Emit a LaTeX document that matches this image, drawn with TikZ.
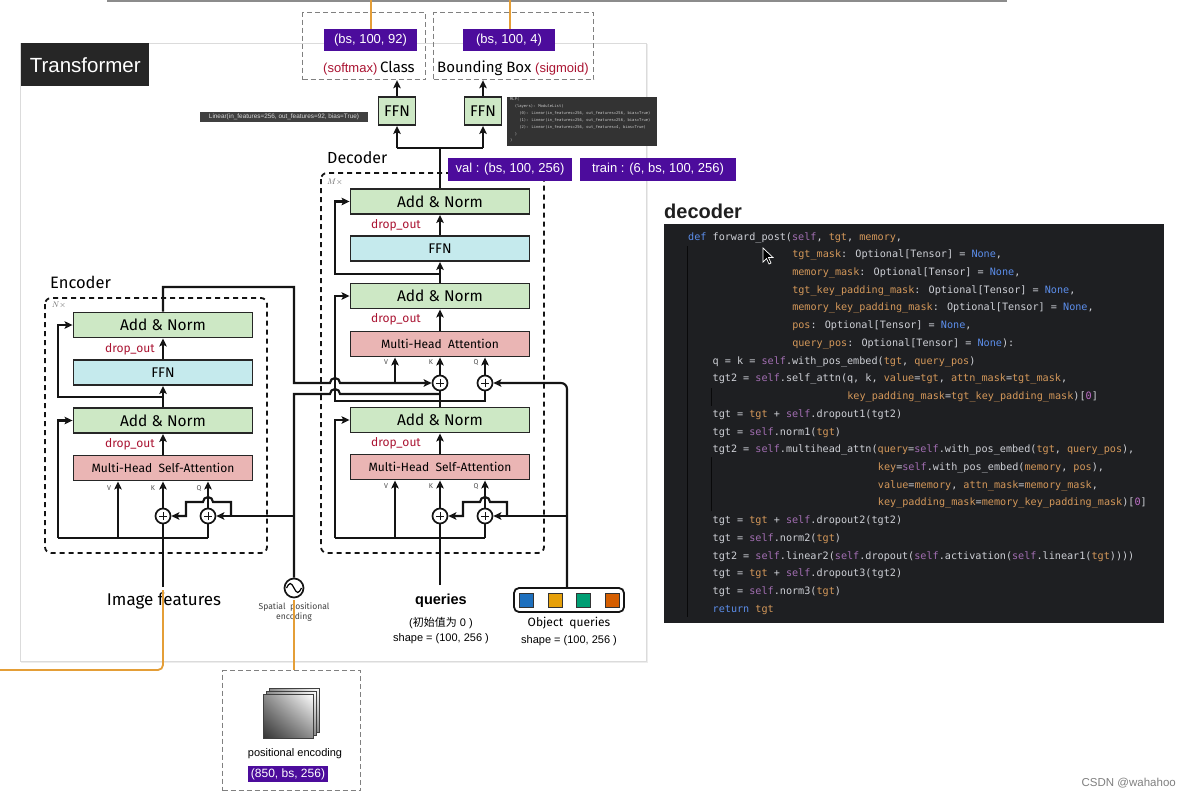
\documentclass[tikz,border=0pt]{standalone}
\usepackage{fontspec}
\setmainfont{Fira Sans}
\newfontfamily\arialf{Liberation Sans}
\newfontfamily\monof{DejaVu Sans Mono}
\newfontfamily\cjkf{Noto Sans CJK SC}
\usetikzlibrary{arrows.meta,calc,shadings}
\definecolor{purp}{RGB}{76,12,156}
\definecolor{dropred}{RGB}{170,20,50}
\definecolor{angreen}{RGB}{205,232,197}
\definecolor{ffnblue}{RGB}{197,234,237}
\definecolor{attpink}{RGB}{234,181,180}
\definecolor{orangeln}{RGB}{228,158,55}
\definecolor{codebg}{RGB}{30,31,34}
\definecolor{codetxt}{RGB}{206,208,214}
\definecolor{codeblue}{RGB}{92,142,235}
\definecolor{codeself}{RGB}{162,110,178}
\definecolor{codeor}{RGB}{212,152,90}
\definecolor{codenum}{RGB}{192,112,202}
\definecolor{sqblue}{RGB}{30,112,190}
\definecolor{sqorange}{RGB}{230,160,10}
\definecolor{sqgreen}{RGB}{0,158,115}
\definecolor{sqred}{RGB}{213,94,0}
\newcommand{\CodeKw}[1]{\textcolor{codeblue}{#1}}
\newcommand{\CodeSelf}{\textcolor{codeself}{self}}
\newcommand{\CodeP}[1]{\textcolor{codeor}{#1}}
\newcommand{\CodeNone}{\textcolor{codeblue}{None}}
\newcommand{\CodeZero}{\textcolor{codenum}{0}}
\newcommand{\CodeLine}[3]{\node[codeline] at ({688+#1*6.12},{240+#2*17.73}) {#3};}
\begin{document}
\begin{tikzpicture}[x=1pt,y=-1pt,
  ln/.style={line width=2.1pt, draw=black!92},
  ar/.style={ln, -{Stealth[length=8pt,width=7.5pt,inset=1.8pt]}},
  blk/.style={draw=black!85, line width=1.9pt, minimum width=179pt, minimum height=25pt, inner sep=0pt},
  anbox/.style={blk, fill=angreen, font=\fontsize{15.5}{15.5}\selectfont},
  ffbox/.style={blk, fill=ffnblue, font=\fontsize{14}{14}\selectfont},
  attbox/.style={blk, fill=attpink, font=\fontsize{12}{12}\selectfont},
  plusnode/.style={circle, draw=black!92, line width=1.7pt, fill=white, minimum size=15pt, inner sep=0pt,
     path picture={\draw[line width=1pt] ([xshift=-4pt]path picture bounding box.center) -- ([xshift=4pt]path picture bounding box.center);
                   \draw[line width=1pt] ([yshift=-4pt]path picture bounding box.center) -- ([yshift=4pt]path picture bounding box.center);}},
  droplab/.style={anchor=base east, text=dropred, font=\fontsize{12}{12}\selectfont, inner sep=0pt},
  vkq/.style={font=\fontsize{7}{7}\selectfont, text=black!70, inner sep=0pt},
  purpbox/.style={fill=purp, text=white, font=\arialf\fontsize{13}{13}\selectfont, inner sep=0pt},
  dbox/.style={draw=black!50, dashed, line width=1.2pt, dash pattern=on 5pt off 3pt, inner sep=0pt},
  encbox/.style={draw=black!92, line width=1.8pt, dash pattern=on 5pt off 4pt, rounded corners=6pt},
  oline/.style={draw=orangeln, line width=1.8pt},
  codeline/.style={anchor=base west, inner sep=0pt, font=\monof\fontsize{10.15}{10.15}\selectfont, text=codetxt},
  sq/.style={draw=black!80, line width=0.8pt, minimum size=14pt, inner sep=0pt}
]
\useasboundingbox (0,0) rectangle (1190,798);
\fill[white] (0,0) rectangle (1190,798);

% top rule
\draw[line width=1.4pt, black!45] (107,1) -- (1007,1);

% Transformer panel
\draw[black!14, line width=1pt, fill=white] (20,43) rectangle (646,661);
\draw[black!7, line width=1.5pt] (21,662.5) -- (647.5,662.5) -- (647.5,44);
\node[fill=black!85, text=white, font=\arialf\fontsize{20.5}{20.5}\selectfont, minimum width=128pt, minimum height=43pt, inner sep=0, anchor=north west] (tlabel) at (21,43) {Transformer};

% top output boxes
\node[dbox, minimum width=123pt, minimum height=67pt, anchor=north west] (clsbox) at (302,12) {};
\node[dbox, minimum width=160pt, minimum height=67pt, anchor=north west] (bbbox) at (433,12) {};
\coordinate (o1) at (371,0);
\coordinate (o2) at (510,0);
\draw[oline] (o1) -- (371,29);
\draw[oline] (o2) -- (510,29);
\node[purpbox, minimum width=93pt, minimum height=22pt] (p92) at (370.5,40) {(bs, 100, 92)};
\node[purpbox, minimum width=92pt, minimum height=22pt] (p4) at (509,40) {(bs, 100, 4)};
\node[anchor=base west, inner sep=0, font=\arialf\fontsize{13}{13}\selectfont, text=dropred] (smx) at (323,72) {(softmax)};
\node[anchor=base west, inner sep=0, font=\fontsize{15}{15}\selectfont] (clsT) at (380,72.5) {Class};
\node[anchor=base west, inner sep=0, font=\fontsize{15}{15}\selectfont] (bbT) at (437,72.5) {Bounding Box};
\node[anchor=base west, inner sep=0, font=\arialf\fontsize{13}{13}\selectfont, text=dropred] (sgm) at (535,72) {(sigmoid)};

% FFN heads
\node[anbox, minimum width=37pt, minimum height=28pt] (ffn1) at (397,111) {FFN};
\node[anbox, minimum width=37pt, minimum height=28pt] (ffn2) at (483,111) {FFN};
\draw[ar] (ffn1.north) -- (ffn1.north |- clsbox.south);
\draw[ar] (ffn2.north) -- (ffn2.north |- bbbox.south);
\node[fill=black!75, text=white!85!black, font=\arialf\fontsize{6.4}{6.4}\selectfont, inner sep=0pt, minimum height=10pt, minimum width=168pt] (linlab) at (284,116.5) {Linear(in\_features=256, out\_features=92, bias=True)};
\node[fill=black!80, minimum width=150pt, minimum height=49pt, anchor=north west, inner sep=0] (mlp) at (507,97) {};
\node[anchor=north west, inner sep=0, font=\monof\fontsize{3.8}{6.9}\selectfont, text=white!80!black, align=left] (mlptxt) at (510,97.5)
 {MLP(\\\phantom{xx}(layers): ModuleList(\\\phantom{xxxx}(0): Linear(in\_features=256, out\_features=256, bias=True)\\\phantom{xxxx}(1): Linear(in\_features=256, out\_features=256, bias=True)\\\phantom{xxxx}(2): Linear(in\_features=256, out\_features=4, bias=True)\\\phantom{xx})\\)};

% Encoder
\draw[encbox] (45,298) rectangle (267,553);
\node[anchor=west, inner sep=0, font=\fontsize{16.5}{16.5}\selectfont] (enclab) at (50,282) {Encoder};
\node[font=\fontsize{8}{8}\selectfont, text=black!60, inner sep=0] (nx) at (59,305) {$N\times$};
\node[anbox] (eAN2) at (163,325) {Add \& Norm};
\node[ffbox] (eFFN) at (163,372.5) {FFN};
\node[anbox] (eAN1) at (163,420.5) {Add \& Norm};
\node[attbox] (eMHSA) at (163,468) {Multi-Head\ \ Self-Attention};
\node[plusnode] (ePK) at (163,516) {};
\node[plusnode] (ePQ) at (208,516) {};
\node[droplab] (ed2) at (155,352) {drop\_out};
\node[droplab] (ed1) at (155,447) {drop\_out};
\node[vkq] (eV) at (109,488) {V};
\node[vkq] (eK) at (153,488) {K};
\node[vkq] (eQ) at (199,488) {Q};

% Decoder
\draw[encbox] (321,173) rectangle (544,553);
\node[anchor=west, inner sep=0, font=\fontsize{16}{16}\selectfont] (declab) at (327,158) {Decoder};
\node[font=\fontsize{8}{8}\selectfont, text=black!60, inner sep=0] (mx) at (335,182) {$M\times$};
\node[anbox] (dAN3) at (440,201.5) {Add \& Norm};
\node[ffbox] (dFFN) at (440,248.5) {FFN};
\node[anbox] (dAN2) at (440,296) {Add \& Norm};
\node[attbox] (dMHA) at (440,344) {Multi-Head\ \ Attention};
\node[anbox] (dAN1) at (440,420) {Add \& Norm};
\node[attbox] (dMHSA) at (440,467) {Multi-Head\ \ Self-Attention};
\node[plusnode] (dPK) at (440,383) {};
\node[plusnode] (dPQ) at (485,383) {};
\node[plusnode] (dLK) at (440,516) {};
\node[plusnode] (dLQ) at (485,516) {};
\node[droplab] (dd3) at (421,228.5) {drop\_out};
\node[droplab] (dd2) at (421,322.5) {drop\_out};
\node[droplab] (dd1) at (421,446.5) {drop\_out};
\node[vkq] (dV2) at (386,362) {V};
\node[vkq] (dK2) at (431,362) {K};
\node[vkq] (dQ2) at (476,362) {Q};
\node[vkq] (dV1) at (386,486) {V};
\node[vkq] (dK1) at (431,486) {K};
\node[vkq] (dQ1) at (476,486) {Q};
\node[purpbox, minimum width=124pt, minimum height=23pt] (valb) at (510,169) {val : (bs, 100, 256)};
\node[purpbox, minimum width=156pt, minimum height=23pt] (trainb) at (658,169) {train : (6, bs, 100, 256)};

% bottom inputs
\node[font=\fontsize{17}{17}\selectfont, inner sep=0] (imgf) at (164,601) {Image features};
\node[circle, draw=black!92, line width=1.7pt, minimum size=19pt, inner sep=0, fill=white] (spe) at (294,588) {};
\draw[line width=1.2pt] (286.5,588) sin (290.25,583.5) cos (294,588) sin (297.75,592.5) cos (301.5,588);
\node[font=\fontsize{8.6}{10}\selectfont, text=black!75, align=center, inner sep=0] (spetxt) at (294,612) {Spatial\ \ positional\\encoding};
\node[font=\arialf\bfseries\fontsize{14.5}{14.5}\selectfont, inner sep=0] (qt) at (441,601) {queries};
\node[font=\arialf\fontsize{11}{11}\selectfont, inner sep=0] (qinit) at (441,623) {({\cjkf 初始值为} 0 )};
\node[font=\arialf\fontsize{11}{11}\selectfont, inner sep=0] (qshape) at (441,639) {shape = (100, 256 )};
\node[draw=black!92, line width=1.8pt, rounded corners=5pt, minimum width=110pt, minimum height=24pt, inner sep=0] (oq) at (569,600) {};
\node[sq, fill=sqblue] (s1) at (526,600.5) {};
\node[sq, fill=sqorange] (s2) at (555,600.5) {};
\node[sq, fill=sqgreen] (s3) at (583,600.5) {};
\node[sq, fill=sqred] (s4) at (612,600.5) {};
\node[font=\fontsize{12}{12}\selectfont, inner sep=0] (oqt) at (569,623) {Object\ \ queries};
\node[font=\arialf\fontsize{11}{11}\selectfont, inner sep=0] (oqs) at (569,641) {shape = (100, 256 )};

% ---- encoder connectors
\coordinate (eIn) at (163,587);
\coordinate (eBusL) at (58,538);
\coordinate (eBusV) at (118,538);
\coordinate (eBusR) at (208,538);
\draw[ln] (eIn) -- (ePK.south);
\draw[ar] (ePK.north) -- (ePK.north |- eMHSA.south);
\draw[ln] (eBusL) -- (eBusR);
\draw[ar] (eBusL) |- (eAN1.west);
\draw[ar] (eBusV) -- (eBusV |- eMHSA.south);
\draw[ln] (eBusR) -- (ePQ.south);
\draw[ar] (ePQ.north) -- (ePQ.north |- eMHSA.south);
\draw[ar] (eMHSA.north) -- (eAN1.south);
\draw[ar] (eAN1.north) -- (eFFN.south);
\coordinate (eR2) at (163,397);
\draw[ar] (eR2) -- (58,397) |- (eAN2.west);
\draw[ar] (eFFN.north) -- (eAN2.south);
% memory to decoder
\draw[ar] (eAN2.north) -- (163,287) -- (294,287) -- (294,383) -- (330,383) arc[start angle=180,end angle=0,radius=5pt] -- (dPK.west);
\coordinate (dVj) at (395,383);
\draw[ar] (dVj) -- (dVj |- dMHA.south);
% positional encoding
\draw[ln] (spe.north) -- (294,394) -- (330,394) arc[start angle=180,end angle=0,radius=5pt] -- (440,394);
\coordinate (ePosJ) at (294,516);
\draw[ar] (ePosJ) -- (ePQ.east);
\coordinate (eBr) at (231,516);
\draw[ar] (eBr) -- (231,502) -- (213,502) arc[start angle=0,end angle=180,radius=5pt] -- (186,502) -- (186,516) -- (ePK.east);

% ---- decoder connectors
\coordinate (dJ) at (440,401);
\draw[ln] (dAN1.north) -- (dPK.south);
\draw[ar] (dJ) -- (335,401) |- (dAN2.west);
\draw[ln] (dJ) -- (485,401) -- (dPQ.south);
\coordinate (oqTop) at (567,588);
\draw[ar, rounded corners=6pt] (oqTop) -- (567,383) -- (dPQ.east);
\coordinate (oqJ) at (567,516);
\draw[ar] (oqJ) -- (dLQ.east);
\coordinate (dBr) at (507,516);
\draw[ar] (dBr) -- (507,502) -- (490,502) arc[start angle=0,end angle=180,radius=5pt] -- (463,502) -- (463,516) -- (dLK.east);
\coordinate (qIn) at (440,585);
\draw[ln] (qIn) -- (dLK.south);
\draw[ar] (dLK.north) -- (dLK.north |- dMHSA.south);
\coordinate (dBusL) at (335,538);
\coordinate (dBusV) at (395,538);
\coordinate (dBusR) at (485,538);
\draw[ln] (dBusL) -- (dBusR);
\draw[ar] (dBusL) |- (dAN1.west);
\draw[ar] (dBusV) -- (dBusV |- dMHSA.south);
\draw[ln] (dBusR) -- (dLQ.south);
\draw[ar] (dLQ.north) -- (dLQ.north |- dMHSA.south);
\draw[ar] (dMHSA.north) -- (dAN1.south);
\draw[ar] (dPK.north) -- (dPK.north |- dMHA.south);
\draw[ar] (dPQ.north) -- (dPQ.north |- dMHA.south);
\draw[ar] (dMHA.north) -- (dAN2.south);
\draw[ar] (dAN2.north) -- (dFFN.south);
\coordinate (dR3) at (440,274);
\draw[ar] (dR3) -- (335,274) |- (dAN3.west);
\draw[ar] (dFFN.north) -- (dAN3.south);
\coordinate (hJ) at (440,148);
\coordinate (hL) at (397,148);
\coordinate (hR) at (483,148);
\draw[ln] (dAN3.north) -- (hJ);
\draw[ln] (hL) -- (hR);
\draw[ar] (hL) -- (ffn1.south);
\draw[ar] (hR) -- (ffn2.south);

% ---- positional encoding box
\node[dbox, minimum width=138pt, minimum height=120pt, anchor=north west] (pebox) at (222,670) {};
\draw[oline, rounded corners=5pt] (163,590) -- (163,670) -- (0,670);
\draw[oline] (294,600) -- (294,670);
\foreach \d in {6,3,0}{
  \shade[lower left=black!80, upper right=white, upper left=black!45, lower right=black!45]
    ({263+\d},{694-\d}) rectangle ({313+\d},{738-\d});
  \draw[black!75, line width=0.8pt] ({263+\d},{694-\d}) rectangle ({313+\d},{738-\d});
}
\node[font=\arialf\fontsize{11}{11}\selectfont, inner sep=0] (petxt) at (295,754) {positional encoding};
\node[purpbox, font=\arialf\fontsize{12}{12}\selectfont, minimum width=80pt, minimum height=16pt] (pe850) at (288,774) {(850, bs, 256)};

% ---- code panel
\node[font=\arialf\bfseries\fontsize{20}{20}\selectfont, anchor=west, text=black!88, inner sep=0] (dech) at (664,211) {decoder};
\fill[codebg] (664,224) rectangle (1164,623);
\draw[black!70!codebg, line width=0.8pt] (687,246) -- (687,617);
\draw[black!70!codebg, line width=0.8pt] (711,388) -- (711,406);
\draw[black!70!codebg, line width=0.8pt] (711,457) -- (711,511);
\CodeLine{0}{0}{\CodeKw{def} forward\_post(\CodeSelf, \CodeP{tgt}, \CodeP{memory},}
\CodeLine{17}{1}{\CodeP{tgt\_mask}: Optional[Tensor] = \CodeNone,}
\CodeLine{17}{2}{\CodeP{memory\_mask}: Optional[Tensor] = \CodeNone,}
\CodeLine{17}{3}{\CodeP{tgt\_key\_padding\_mask}: Optional[Tensor] = \CodeNone,}
\CodeLine{17}{4}{\CodeP{memory\_key\_padding\_mask}: Optional[Tensor] = \CodeNone,}
\CodeLine{17}{5}{\CodeP{pos}: Optional[Tensor] = \CodeNone,}
\CodeLine{17}{6}{\CodeP{query\_pos}: Optional[Tensor] = \CodeNone):}
\CodeLine{4}{7}{q = k = \CodeSelf.with\_pos\_embed(\CodeP{tgt}, \CodeP{query\_pos})}
\CodeLine{4}{8}{tgt2 = \CodeSelf.self\_attn(q, k, \CodeP{value}=\CodeP{tgt}, \CodeP{attn\_mask}=\CodeP{tgt\_mask},}
\CodeLine{26}{9}{\CodeP{key\_padding\_mask}=\CodeP{tgt\_key\_padding\_mask})[\CodeZero]}
\CodeLine{4}{10}{tgt = \CodeP{tgt} + \CodeSelf.dropout1(tgt2)}
\CodeLine{4}{11}{tgt = \CodeSelf.norm1(\CodeP{tgt})}
\CodeLine{4}{12}{tgt2 = \CodeSelf.multihead\_attn(\CodeP{query}=\CodeSelf.with\_pos\_embed(\CodeP{tgt}, \CodeP{query\_pos}),}
\CodeLine{31}{13}{\CodeP{key}=\CodeSelf.with\_pos\_embed(\CodeP{memory}, \CodeP{pos}),}
\CodeLine{31}{14}{\CodeP{value}=\CodeP{memory}, \CodeP{attn\_mask}=\CodeP{memory\_mask},}
\CodeLine{31}{15}{\CodeP{key\_padding\_mask}=\CodeP{memory\_key\_padding\_mask})[\CodeZero]}
\CodeLine{4}{16}{tgt = \CodeP{tgt} + \CodeSelf.dropout2(tgt2)}
\CodeLine{4}{17}{tgt = \CodeSelf.norm2(\CodeP{tgt})}
\CodeLine{4}{18}{tgt2 = \CodeSelf.linear2(\CodeSelf.dropout(\CodeSelf.activation(\CodeSelf.linear1(\CodeP{tgt}))))}
\CodeLine{4}{19}{tgt = \CodeP{tgt} + \CodeSelf.dropout3(tgt2)}
\CodeLine{4}{20}{tgt = \CodeSelf.norm3(\CodeP{tgt})}
\CodeLine{4}{21}{\CodeKw{return} \CodeP{tgt}}
% mouse cursor
\filldraw[fill=black, draw=white, line width=0.7pt] (763,248) -- (763,262) -- (766.5,258.5) -- (769,264) -- (771,263) -- (768.5,257.5) -- (773,257.5) -- cycle;

% watermark
\node[font=\arialf\fontsize{11.5}{11.5}\selectfont, text=black!50, anchor=east, inner sep=0] (wm) at (1176,783) {CSDN @wahahoo};
\end{tikzpicture}
\end{document}
